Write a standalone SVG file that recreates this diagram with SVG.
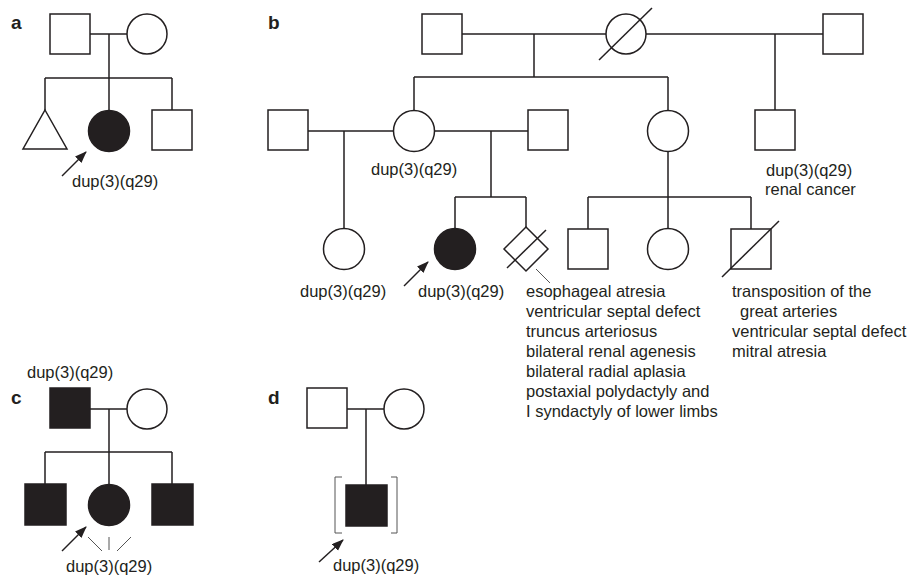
<svg xmlns="http://www.w3.org/2000/svg" width="914" height="575" viewBox="0 0 914 575">
<style>
.n{fill:#fff;stroke:#231f20;stroke-width:1.5}
.f{fill:#231f20;stroke:#231f20;stroke-width:1.5}
.c{fill:none;stroke:#231f20;stroke-width:1.5}
.thin{fill:none;stroke:#555;stroke-width:1}
.t{font-family:"Liberation Sans",Arial,sans-serif;font-size:16.5px;fill:#231f20}
.lab{font-family:"Liberation Sans",Arial,sans-serif;font-size:19px;font-weight:bold;fill:#231f20}
.arr{fill:none;stroke:#231f20;stroke-width:1.5;marker-end:url(#ah)}
</style>
<defs>
<marker id="ah" markerUnits="userSpaceOnUse" markerWidth="12" markerHeight="10" refX="11" refY="4.5" orient="auto">
<path d="M0,0 L12,4.5 L0,9 Z" fill="#231f20"/>
</marker>
</defs>
<rect width="914" height="575" fill="#fff"/>

<!-- panel labels -->
<text class="lab" x="11" y="29">a</text>
<text class="lab" x="268" y="29">b</text>
<text class="lab" x="11" y="404">c</text>
<text class="lab" x="268" y="404">d</text>

<g id="connectors">
<!-- a -->
<path class="c" d="M90,34H127 M109,34V78 M45,78H172 M45,78V110 M109,78V110 M172,78V110"/>
<!-- b -->
<path class="c" d="M462,34H606 M646,34H823 M534,34V77 M414,77H668 M414,77V110 M668,77V110 M775,34V110"/>
<path class="c" d="M308,131H393 M344,131V228 M435,131H528 M491,131V197 M455,197H526 M455,197V228 M526,197V227"/>
<path class="c" d="M668,152V197 M588,197H751 M588,197V229 M668,197V228 M751,197V229"/>
<!-- c -->
<path class="c" d="M90,409H127 M109,409V452 M45,452H172 M45,452V484 M109,452V484 M172,452V484"/>
<!-- d -->
<path class="c" d="M347,409H384 M366,409V485"/>
<!-- proband arrows -->
<line class="arr" x1="62" y1="176" x2="86" y2="152"/>
<line class="arr" x1="404" y1="286" x2="428" y2="262"/>
<line class="arr" x1="62" y1="551" x2="86" y2="527"/>
<line class="arr" x1="319" y1="562" x2="343" y2="540"/>
<!-- leader lines -->
<line class="thin" x1="536" y1="269" x2="550" y2="283"/>
<path class="thin" d="M88,537L102,551 M109,537V550 M131,537L117,551"/>
</g>

<!-- panel a -->
<g id="a-father"><rect class="n" x="50" y="14" width="40" height="40"/></g>
<g id="a-mother"><circle class="n" cx="147" cy="34" r="20"/></g>
<g id="a-pregnancy"><polygon class="n" points="45,110 67,149 23,149"/></g>
<g id="a-proband"><circle class="f" cx="109" cy="131" r="20.5"/>
<text class="t" x="72" y="187">dup(3)(q29)</text></g>
<g id="a-brother"><rect class="n" x="152" y="110" width="40" height="40"/></g>

<!-- panel b -->
<g id="b-grandfather1"><rect class="n" x="422" y="14" width="40" height="40"/></g>
<g id="b-grandmother"><circle class="n" cx="626" cy="34" r="20"/>
<line class="c" x1="599" y1="60" x2="652" y2="8"/></g>
<g id="b-grandfather2"><rect class="n" x="823" y="14" width="40" height="40"/></g>
<g id="b-uncle"><rect class="n" x="755" y="110" width="40" height="40"/>
<text class="t" x="766" y="176">dup(3)(q29)</text>
<text class="t" x="765" y="195">renal cancer</text></g>
<g id="b-husband1"><rect class="n" x="268" y="110" width="40" height="40"/></g>
<g id="b-mother"><circle class="n" cx="414" cy="131" r="20.5"/>
<text class="t" x="371" y="175">dup(3)(q29)</text></g>
<g id="b-husband2"><rect class="n" x="528" y="110" width="40" height="40"/></g>
<g id="b-aunt"><circle class="n" cx="668" cy="131" r="20.5"/></g>
<g id="b-halfsister"><circle class="n" cx="344" cy="249" r="20.5"/>
<text class="t" x="300" y="297">dup(3)(q29)</text></g>
<g id="b-proband"><circle class="f" cx="455" cy="249" r="20.5"/>
<text class="t" x="418" y="297">dup(3)(q29)</text></g>
<g id="b-fetus"><polygon class="n" points="526,227 548,249 526,271 504,249"/>
<line class="c" x1="507" y1="268" x2="546" y2="230"/>
<text class="t" x="526" y="297">esophageal atresia</text>
<text class="t" x="526" y="317">ventricular septal defect</text>
<text class="t" x="526" y="337">truncus arteriosus</text>
<text class="t" x="526" y="357">bilateral renal agenesis</text>
<text class="t" x="526" y="377">bilateral radial aplasia</text>
<text class="t" x="526" y="397">postaxial polydactyly and</text>
<text class="t" x="526" y="417">I syndactyly of lower limbs</text></g>
<g id="b-cousin1"><rect class="n" x="568" y="229" width="40" height="40"/></g>
<g id="b-cousin2"><circle class="n" cx="668" cy="249" r="20.5"/></g>
<g id="b-cousin3"><rect class="n" x="731" y="229" width="40" height="40"/>
<line class="c" x1="722" y1="277" x2="779" y2="221"/>
<text class="t" x="732" y="297">transposition of the</text>
<text class="t" x="740" y="317">great arteries</text>
<text class="t" x="732" y="337">ventricular septal defect</text>
<text class="t" x="732" y="357">mitral atresia</text></g>

<!-- panel c -->
<g id="c-father"><rect class="f" x="50" y="388" width="40" height="40"/>
<text class="t" x="27" y="378">dup(3)(q29)</text></g>
<g id="c-mother"><circle class="n" cx="147" cy="409" r="20"/></g>
<g id="c-brother1"><rect class="f" x="25" y="484" width="41" height="41"/></g>
<g id="c-proband"><circle class="f" cx="109" cy="505" r="20.5"/>
<text class="t" x="66" y="572">dup(3)(q29)</text></g>
<g id="c-brother2"><rect class="f" x="152" y="484" width="41" height="41"/></g>

<!-- panel d -->
<g id="d-father"><rect class="n" x="307" y="388" width="40" height="40"/></g>
<g id="d-mother"><circle class="n" cx="404" cy="409" r="20"/></g>
<g id="d-proband"><rect class="f" x="346" y="485" width="41" height="41"/>
<path class="thin" d="M342,477H335V533H342 M391,477H397V533H391"/>
<text class="t" x="333" y="571">dup(3)(q29)</text></g>
</svg>
